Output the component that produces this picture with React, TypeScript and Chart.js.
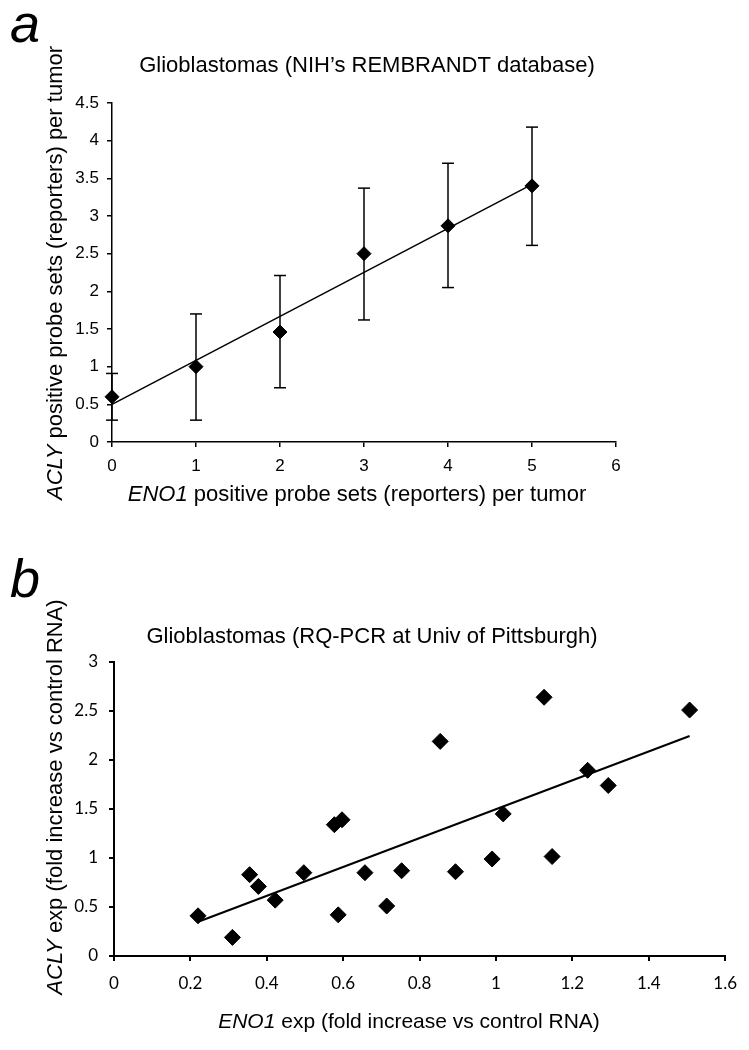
import React, { useEffect, useRef } from "react";
import { Chart, registerables } from "chart.js";

Chart.register(...registerables);

// ---------- Panel a data ----------
const aX = [0, 1, 2, 3, 4, 5];
const aMean = [0.6, 1.0, 1.46, 2.5, 2.87, 3.4];
const aLow = [0.29, 0.29, 0.72, 1.62, 2.05, 2.61];
const aHigh = [0.91, 1.7, 2.21, 3.37, 3.7, 4.18];
const aTrendX = [0, 5];
const aTrendY = [0.5, 3.42];
const aXTickValues = [0, 1, 2, 3, 4, 5, 6];
const aXTickLabels = ["0", "1", "2", "3", "4", "5", "6"];
const aYTickValues = [0, 0.5, 1, 1.5, 2, 2.5, 3, 3.5, 4, 4.5];
const aYTickLabels = ["0", "0.5", "1", "1.5", "2", "2.5", "3", "3.5", "4", "4.5"];

// ---------- Panel b data ----------
const bX = [0.22, 0.31, 0.355, 0.378, 0.422, 0.497, 0.577, 0.597, 0.587, 0.657, 0.714, 0.753, 0.854, 0.894, 0.99, 1.019, 1.126, 1.147, 1.24, 1.294, 1.507];
const bY = [0.41, 0.19, 0.83, 0.71, 0.57, 0.85, 1.34, 1.39, 0.42, 0.85, 0.51, 0.87, 2.19, 0.86, 0.99, 1.45, 2.64, 1.015, 1.895, 1.74, 2.51];
const bTrendX = [0.224, 1.507];
const bTrendY = [0.355, 2.245];
const bXTickValues = [0, 0.2, 0.4, 0.6, 0.8, 1, 1.2, 1.4, 1.6];
const bXTickLabels = ["0", "0.2", "0.4", "0.6", "0.8", "1", "1.2", "1.4", "1.6"];
const bYTickValues = [0, 0.5, 1, 1.5, 2, 2.5, 3];
const bYTickLabels = ["0", "0.5", "1", "1.5", "2", "2.5", "3"];

// ---------- Text ----------
const aPanel = "a";
const bPanel = "b";
const aTitle = "Glioblastomas (NIH\u2019s REMBRANDT database)";
const bTitle = "Glioblastomas (RQ-PCR at Univ of Pittsburgh)";
const aXTitle = [
  { text: "ENO1", italic: true },
  { text: " positive probe sets (reporters) per tumor", italic: false },
];
const aYTitle = [
  { text: "ACLY", italic: true },
  { text: " positive probe sets (reporters) per tumor", italic: false },
];
const bXTitle = [
  { text: "ENO1", italic: true },
  { text: " exp (fold increase vs control RNA)", italic: false },
];
const bYTitle = [
  { text: "ACLY", italic: true },
  { text: " exp (fold increase vs control RNA)", italic: false },
];

type Seg = { text: string; italic: boolean };
const SANS = "'Liberation Sans', Arial, sans-serif";
const CAL = "Lato, 'Open Sans', sans-serif";

function drawRich(
  ctx: CanvasRenderingContext2D,
  segs: Seg[],
  cx: number,
  cy: number,
  size: number,
  rotate: boolean
) {
  ctx.save();
  ctx.translate(cx, cy);
  if (rotate) ctx.rotate(-Math.PI / 2);
  const fonts = segs.map((s) => `${s.italic ? "italic " : ""}${size}px ${SANS}`);
  let total = 0;
  const widths = segs.map((s, i) => {
    ctx.font = fonts[i];
    const w = ctx.measureText(s.text).width;
    total += w;
    return w;
  });
  let x = -total / 2;
  ctx.textBaseline = "middle";
  ctx.textAlign = "left";
  ctx.fillStyle = "#000";
  segs.forEach((s, i) => {
    ctx.font = fonts[i];
    ctx.fillText(s.text, x, 0);
    x += widths[i];
  });
  ctx.restore();
}

function drawPlain(
  ctx: CanvasRenderingContext2D,
  text: string,
  cx: number,
  cy: number,
  font: string,
  align: CanvasTextAlign,
  baseline: CanvasTextBaseline
) {
  ctx.save();
  ctx.font = font;
  ctx.fillStyle = "#000";
  ctx.textAlign = align;
  ctx.textBaseline = baseline;
  ctx.fillText(text, cx, cy);
  ctx.restore();
}

function axis(
  min: number,
  max: number,
  values: number[],
  labels: string[],
  fit: number,
  isX: boolean,
  font: any,
  pad: number,
  lw: number
) {
  return {
    type: "linear",
    position: isX ? "bottom" : "left",
    min,
    max,
    afterBuildTicks: (s: any) => {
      s.ticks = values.map((v) => ({ value: v }));
    },
    afterFit: (s: any) => {
      if (isX) s.height = fit;
      else s.width = fit;
    },
    grid: {
      display: true,
      drawOnChartArea: false,
      drawTicks: true,
      tickLength: 5,
      color: "#000",
      lineWidth: lw,
    },
    border: { display: true, color: "#000", width: lw },
    ticks: {
      color: "#000",
      font,
      padding: pad,
      maxRotation: 0,
      autoSkip: false,
      callback: (_v: any, i: number) => labels[i],
    },
  };
}

function ChartA() {
  const ref = useRef<HTMLCanvasElement | null>(null);
  useEffect(() => {
    if (!ref.current) return;
    const datasets: any[] = [];
    datasets.push({
      data: aX.map((x, i) => ({ x, y: aMean[i] })),
      pointStyle: "rectRot",
      pointRadius: 7,
      pointBackgroundColor: "#000",
      pointBorderColor: "#000",
      pointBorderWidth: 1,
      showLine: false,
      clip: false,
    });
    datasets.push({
      data: aTrendX.map((x, i) => ({ x, y: aTrendY[i] })),
      showLine: true,
      pointRadius: 0,
      borderColor: "#000",
      borderWidth: 1.5,
      clip: false,
    });
    aX.forEach((x, i) => {
      datasets.push({
        data: [
          { x, y: aLow[i] },
          { x, y: aHigh[i] },
        ],
        showLine: true,
        borderColor: "#000",
        borderWidth: 1.5,
        pointStyle: "line",
        pointRadius: 6,
        pointBorderColor: "#000",
        pointBorderWidth: 1.5,
        clip: false,
      });
    });
    const textPlugin = {
      id: "textA",
      afterDraw: (c: any) => {
        const ctx = c.ctx as CanvasRenderingContext2D;
        drawPlain(ctx, aPanel, 10, 42, `italic 54px ${SANS}`, "left", "alphabetic");
        drawPlain(ctx, aTitle, 367, 66, `22px ${SANS}`, "center", "middle");
        drawRich(ctx, aXTitle, 357, 495, 22, false);
        drawRich(ctx, aYTitle, 56, 273, 22, true);
      },
    };
    const chart = new Chart(ref.current, {
      type: "scatter",
      data: { datasets },
      options: {
        animation: false,
        responsive: false,
        devicePixelRatio: 1,
        layout: { padding: { left: 62, right: 133, top: 103, bottom: 48 } },
        plugins: { legend: { display: false }, tooltip: { enabled: false } },
        scales: {
          x: axis(0, 6, aXTickValues, aXTickLabels, 35, true, { family: SANS, size: 17 }, 9, 1.5),
          y: axis(0, 4.5, aYTickValues, aYTickLabels, 50, false, { family: SANS, size: 17 }, 8, 1.5),
        },
      } as any,
      plugins: [textPlugin],
    } as any);
    return () => chart.destroy();
  }, []);
  return <canvas ref={ref} width={749} height={525} style={{ display: "block" }} />;
}

function ChartB() {
  const ref = useRef<HTMLCanvasElement | null>(null);
  useEffect(() => {
    if (!ref.current) return;
    const datasets: any[] = [
      {
        data: bX.map((x, i) => ({ x, y: bY[i] })),
        pointStyle: "rectRot",
        pointRadius: 8,
        pointBackgroundColor: "#000",
        pointBorderColor: "#000",
        pointBorderWidth: 1,
        showLine: false,
        clip: false,
      },
      {
        data: bTrendX.map((x, i) => ({ x, y: bTrendY[i] })),
        showLine: true,
        pointRadius: 0,
        borderColor: "#000",
        borderWidth: 2,
        clip: false,
      },
    ];
    const textPlugin = {
      id: "textB",
      afterDraw: (c: any) => {
        const ctx = c.ctx as CanvasRenderingContext2D;
        drawPlain(ctx, bPanel, 10, 72, `italic 54px ${SANS}`, "left", "alphabetic");
        drawPlain(ctx, bTitle, 372, 112, `22px ${SANS}`, "center", "middle");
        drawRich(ctx, bXTitle, 409, 497, 21, false);
        drawRich(ctx, bYTitle, 56, 272, 22, true);
      },
    };
    const chart = new Chart(ref.current, {
      type: "scatter",
      data: { datasets },
      options: {
        animation: false,
        responsive: false,
        devicePixelRatio: 1,
        layout: { padding: { left: 64, right: 16, top: 137, bottom: 54 } },
        plugins: { legend: { display: false }, tooltip: { enabled: false } },
        scales: {
          x: axis(0, 1.6, bXTickValues, bXTickLabels, 40, true, { family: CAL, size: 17 }, 12, 2),
          y: axis(0, 3, bYTickValues, bYTickLabels, 50, false, { family: CAL, size: 17 }, 11, 2),
        },
      } as any,
      plugins: [textPlugin],
    } as any);
    return () => chart.destroy();
  }, []);
  return <canvas ref={ref} width={749} height={525} style={{ display: "block" }} />;
}

export default function App() {
  return (
    <div
      style={{
        position: "absolute",
        left: 0,
        top: 0,
        width: 749,
        height: 1050,
        background: "#fff",
        overflow: "hidden",
      }}
    >
      <ChartA />
      <ChartB />
    </div>
  );
}
